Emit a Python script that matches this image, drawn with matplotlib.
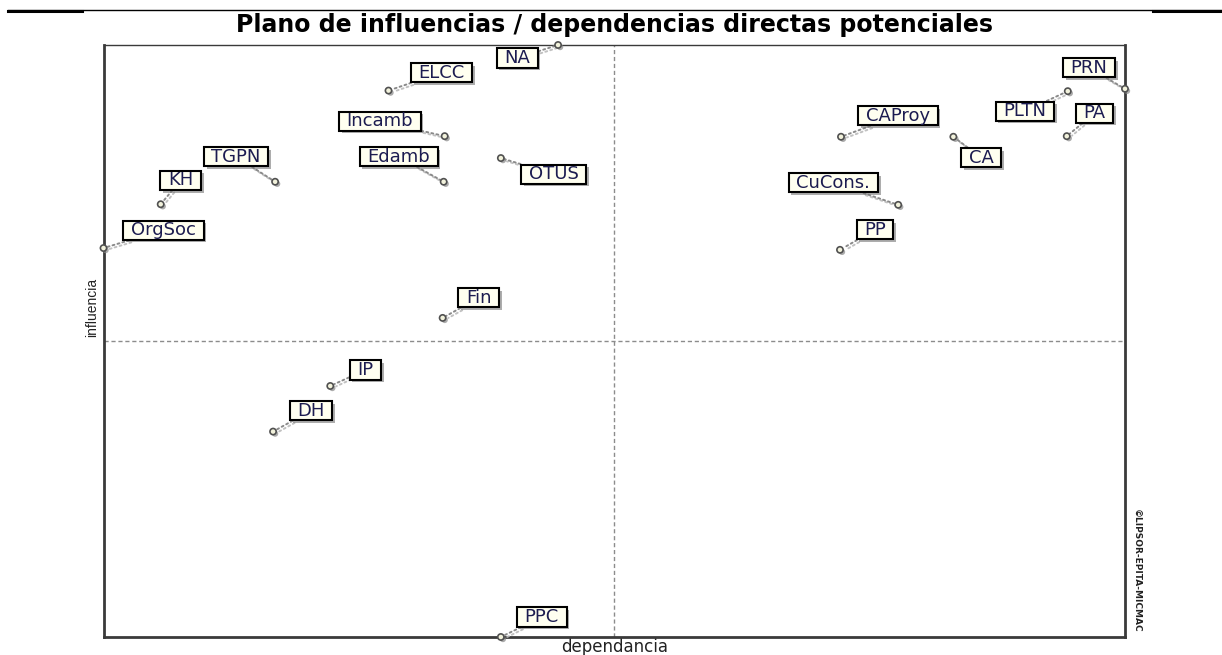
import matplotlib
matplotlib.use("Agg")
import matplotlib.pyplot as plt
import matplotlib.patheffects as pe
from matplotlib.lines import Line2D
from matplotlib.path import Path

# MICMAC plane: dependence (x) / influence (y) (0-100 scale)
variables = ["OrgSoc", "KH", "TGPN", "NA", "ELCC", "Incamb", "Edamb", "OTUS", "Fin",
             "IP", "DH", "PPC", "CAProy", "CA", "PLTN", "PA", "PRN", "CuCons.", "PP"]
dependencia = [0.0, 5.6, 16.8, 44.5, 27.9, 33.4, 33.3, 38.9, 33.2,
               22.2, 16.6, 38.9, 72.2, 83.2, 94.4, 94.3, 100.0, 77.8, 72.1]
influencia = [65.7, 73.1, 76.9, 100.0, 92.3, 84.6, 76.9, 80.9, 53.9,
              42.4, 34.7, 0.0, 84.5, 84.5, 92.2, 84.6, 92.6, 73.0, 65.4]

# where each label box sits relative to its point, pixels (right, up)
label_offsets = {
    "OrgSoc": (60, 18), "KH": (20, 24), "TGPN": (-39, 25), "NA": (-41, -13),
    "ELCC": (53, 18), "Incamb": (-65, 15), "Edamb": (-45, 25), "OTUS": (53, -16),
    "Fin": (36, 20), "IP": (35, 16), "DH": (38, 21), "PPC": (41, 20),
    "CAProy": (57, 21), "CA": (28, -21), "PLTN": (-43, -20), "PA": (28, 23),
    "PRN": (-36, 21), "CuCons.": (-65, 22), "PP": (35, 20),
}


def label_box(x0, y0, width, height, mutation_size):
    # wide, flat box like the original MICMAC labels
    hp = 0.42 * mutation_size
    vp = 0.03 * mutation_size
    x0, x1 = x0 - hp, x0 + width + hp
    y0, y1 = y0 - vp, y0 + height + vp
    return Path([(x0, y0), (x1, y0), (x1, y1), (x0, y1), (x0, y0)], closed=True)


fig = plt.figure(figsize=(12.22, 6.55), dpi=100)
ax = fig.add_axes([0.0847, 0.0275, 0.8359, 0.9038])
ax.set_xlim(0, 100)
ax.set_ylim(0, 100)
ax.set_xticks([])
ax.set_yticks([])
for side, spine in ax.spines.items():
    spine.set_color("#3a3a3a")
    spine.set_linewidth(1.0 if side == "top" else 2.0)

ax.axvline(50, color="#8c8c8c", lw=1, ls=(0, (3, 2)), zorder=1)
ax.axhline(50, color="#8c8c8c", lw=1, ls=(0, (3, 2)), zorder=1)

ax.scatter(dependencia, influencia, s=20, facecolor="#f2f2dc", edgecolor="#505050",
           lw=1.2, zorder=5, clip_on=False,
           path_effects=[pe.SimplePatchShadow(offset=(1.5, -1.5), shadow_rgbFace="#888888", alpha=0.7),
                         pe.Normal()])

for name, x, y in zip(variables, dependencia, influencia):
    dx, dy = label_offsets[name]
    ann = ax.annotate(name, (x, y), xytext=(dx, dy), textcoords="offset pixels",
                      ha="center", va="center", fontsize=13, color="#1c1c50",
                      bbox=dict(boxstyle=label_box, fc="#fffff0", ec="black", lw=1.5),
                      arrowprops=dict(arrowstyle="-", color="#8a8a8a", ls=":", lw=1.4,
                                      shrinkA=0, shrinkB=3),
                      annotation_clip=False, zorder=4)
    ann.get_bbox_patch().set_path_effects(
        [pe.SimplePatchShadow(offset=(2, -2), shadow_rgbFace="#777777", alpha=0.6), pe.Normal()])
    ann.arrow_patch.set_path_effects(
        [pe.SimpleLineShadow(offset=(1.5, -1.5), shadow_color="#bbbbbb", alpha=0.9), pe.Normal()])

ax.set_title("Plano de influencias / dependencias directas potenciales",
             fontsize=17, fontweight="bold", pad=9)
ax.set_xlabel("dependancia", fontsize=12, color="#222222", labelpad=1)
ax.set_ylabel("influencia", fontsize=10, family="Liberation Sans", color="#222222", va="center")
ax.yaxis.set_label_coords(-0.011, 0.557)

fig.text(1136 / 1222, 1 - 571 / 655, "©LIPSOR-EPITA-MICMAC", rotation=270,
         ha="center", va="center", fontsize=6.5, fontweight="bold", color="#222222")

# rule across the top of the page
fig.add_artist(Line2D([8 / 1222, 1], [1 - 10 / 655] * 2, lw=1, color="black",
                      transform=fig.transFigure))
fig.add_artist(Line2D([8 / 1222, 82 / 1222], [1 - 10.5 / 655] * 2, lw=2.2, color="black",
                      transform=fig.transFigure))
fig.add_artist(Line2D([1153 / 1222, 1], [1 - 10.5 / 655] * 2, lw=2.2, color="black",
                      transform=fig.transFigure))

fig.savefig("out.png", dpi=100)
